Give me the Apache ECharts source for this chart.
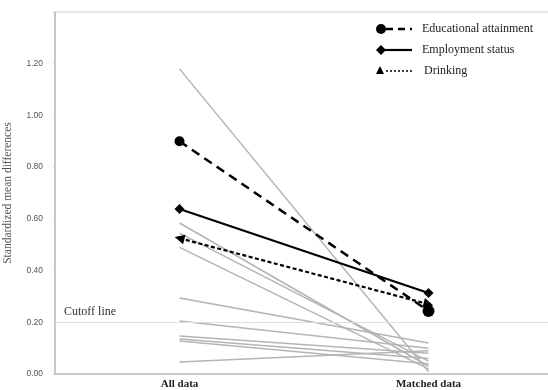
<!DOCTYPE html>
<html><head><meta charset="utf-8">
<script src="https://cdn.jsdelivr.net/npm/echarts@6/dist/echarts.min.js"></script>
<style>html,body{margin:0;padding:0;background:#fff}#c{width:548px;height:390px}</style>
</head><body><div id="c"></div>
<script>
var categories = ['All data', 'Matched data'];
var yTicks = [0, 0.2, 0.4, 0.6, 0.8, 1.0, 1.2];
var cutoff = 0.20;
var grayAll = [1.18, 0.584, 0.545, 0.49, 0.294, 0.205, 0.147, 0.135, 0.128, 0.046];
var grayMatched = [0.01, 0.03, 0.05, 0.02, 0.12, 0.10, 0.08, 0.06, 0.04, 0.09];
var education = [0.90, 0.244];
var employment = [0.638, 0.313];
var drinking = [0.525, 0.27];
var legendNames = ['Educational attainment', 'Employment status', 'Drinking'];

var serif = 'Liberation Serif';
var series = [];
for (var i = 0; i < grayAll.length; i++) {
  series.push({
    type: 'line', data: [grayAll[i], grayMatched[i]], symbol: 'none', silent: true,
    lineStyle: {color: '#b4b4b4', width: 1.5}, z: 1,
    markLine: i === 0 ? {
      silent: true, symbol: 'none',
      lineStyle: {color: '#dedede', type: 'solid', width: 1},
      label: {formatter: 'Cutoff line', position: 'insideStartTop', color: '#333', fontFamily: serif, fontSize: 12, distance: [9, 4]},
      data: [{yAxis: cutoff}]
    } : undefined
  });
}
series.push({
  type: 'line', name: legendNames[0], data: education, symbol: 'circle',
  symbolSize: function (v, p) { return p.dataIndex === 0 ? 10 : 12; },
  itemStyle: {color: '#000'}, lineStyle: {color: '#000', width: 2.5, type: [9, 6]}, z: 5
});
series.push({
  type: 'line', name: legendNames[1], data: employment, symbol: 'diamond', symbolSize: 10,
  itemStyle: {color: '#000'}, lineStyle: {color: '#000', width: 2.2}, z: 5
});
series.push({
  type: 'line', name: legendNames[2],
  data: [{value: drinking[0], symbolRotate: 75}, {value: drinking[1], symbolRotate: -105}],
  symbol: 'triangle', symbolSize: 10,
  itemStyle: {color: '#000'}, lineStyle: {color: '#000', width: 2.2, type: [4, 2.5]}, z: 5
});

var chart = echarts.init(document.getElementById('c'));
chart.setOption({
  animation: false,
  grid: {left: 55, top: 12, width: 498, height: 362, show: true, borderColor: '#d0d0d0', borderWidth: 1,
    outerBoundsMode: 'none', containLabel: false},
  xAxis: {
    type: 'category', data: categories, boundaryGap: true,
    axisLine: {lineStyle: {color: '#bdbdbd', width: 1.5}}, axisTick: {show: false},
    axisLabel: {color: '#222', fontFamily: serif, fontWeight: 'bold', fontSize: 11, margin: 5}
  },
  yAxis: {
    type: 'value', min: 0, max: 1.4, interval: 0.2,
    name: 'Standardized mean differences', nameLocation: 'middle', nameGap: 41,
    nameTextStyle: {color: '#555', fontFamily: serif, fontSize: 11.5},
    axisLine: {show: true, lineStyle: {color: '#bdbdbd', width: 1.5}},
    axisTick: {show: true, length: 2, inside: false, lineStyle: {color: '#ccc'}},
    splitLine: {show: false},
    axisLabel: {color: '#555', fontSize: 8.5, fontFamily: 'Liberation Sans', margin: 12,
      formatter: function (v) { return yTicks.some(function (t) { return Math.abs(t - v) < 1e-6; }) ? v.toFixed(2) : ''; }}
  },
  graphic: [
    {type: 'circle', shape: {cx: 381, cy: 29, r: 5}, style: {fill: '#000'}},
    {type: 'line', shape: {x1: 386, y1: 29, x2: 412, y2: 29}, style: {stroke: '#000', lineWidth: 2.5, lineDash: [7, 5]}},
    {type: 'text', style: {x: 422, y: 29, text: legendNames[0], font: '12px "Liberation Serif"', fill: '#222', verticalAlign: 'middle'}},
    {type: 'polygon', shape: {points: [[376, 50], [381, 45], [386, 50], [381, 55]]}, style: {fill: '#000'}},
    {type: 'line', shape: {x1: 385, y1: 50, x2: 412, y2: 50}, style: {stroke: '#000', lineWidth: 2.2}},
    {type: 'text', style: {x: 422, y: 50, text: legendNames[1], font: '12px "Liberation Serif"', fill: '#222', verticalAlign: 'middle'}},
    {type: 'polygon', shape: {points: [[376, 74], [380, 66], [384, 74]]}, style: {fill: '#000'}},
    {type: 'line', shape: {x1: 386, y1: 71, x2: 412, y2: 71}, style: {stroke: '#000', lineWidth: 1.5, lineDash: [2, 2]}},
    {type: 'text', style: {x: 424, y: 71, text: legendNames[2], font: '12px "Liberation Serif"', fill: '#222', verticalAlign: 'middle'}}
  ],
  series: series
});
</script></body></html>
